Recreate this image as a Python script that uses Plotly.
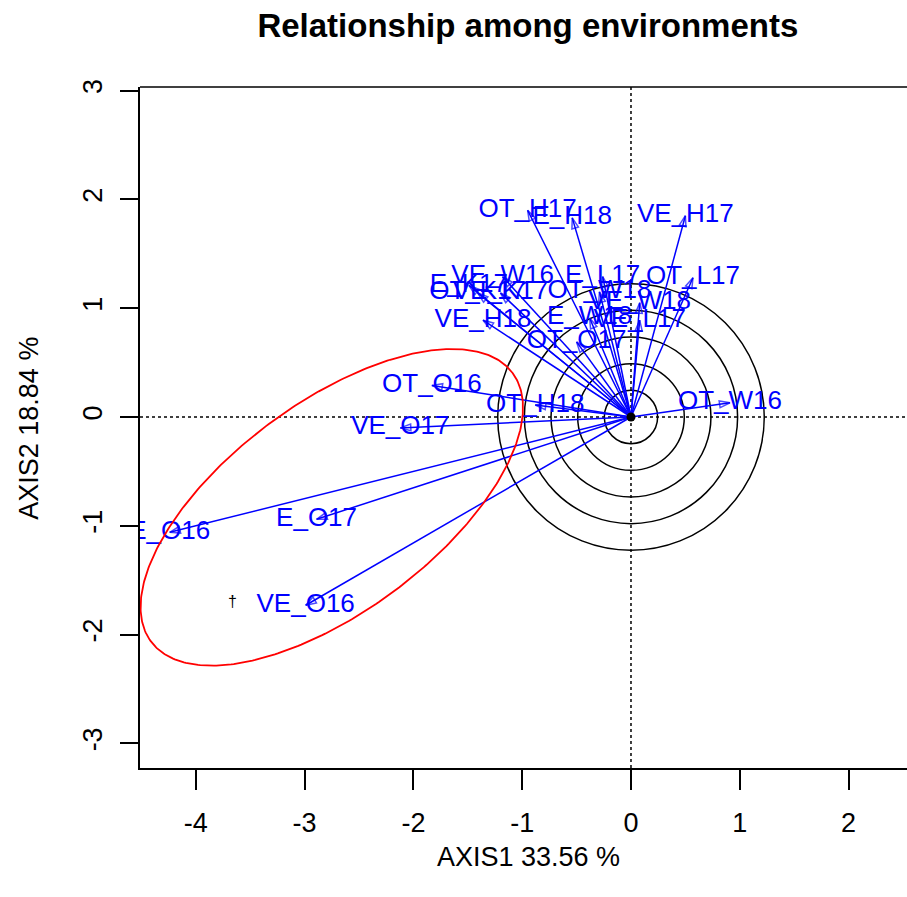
import numpy as np
import plotly.graph_objects as go

# Environment scores on the first two biplot axes
env_names = [
    "OT_H17", "E_H18", "VE_H17", "VE_W16", "E_L17", "OT_L17",
    "E_K17", "OT_K17", "VE_K17", "OT_W18", "VE_W18", "VE_H18",
    "E_W18", "VE_L17", "OT_O17", "OT_O16", "OT_H18", "OT_W16",
    "VE_O17", "E_O17", "E_O16", "VE_O16",
]
axis1 = [
    -0.95, -0.54, 0.50, -1.18, -0.26, 0.57,
    -1.49, -1.41, -1.20, -0.29, 0.08, -1.36,
    -0.38, 0.08, -0.50, -1.83, -0.88, 0.91,
    -2.12, -2.89, -4.24, -2.99,
]
axis2 = [
    1.90, 1.83, 1.85, 1.29, 1.29, 1.28,
    1.21, 1.14, 1.14, 1.15, 1.05, 0.89,
    0.91, 0.89, 0.69, 0.29, 0.11, 0.13,
    -0.10, -0.94, -1.06, -1.73,
]

# Concentric reference circles around the origin
circle_radii = [0.245, 0.49, 0.735, 0.98, 1.225]

# Highlighting ellipse around the O-environment group
ell_center = (-2.75, -0.83)
ell_semi_major = 2.07
ell_semi_minor = 0.96
ell_angle_deg = 36.6

x_range = [-4.513, 2.537]
y_range = [-3.226, 3.033]
x_ticks = [-4, -3, -2, -1, 0, 1, 2]
y_ticks = [-3, -2, -1, 0, 1, 2, 3]

title_text = "Relationship among environments"
x_title = "AXIS1 33.56 %"
y_title = "AXIS2 18.84 %"

FONT = "Arial, Liberation Sans, sans-serif"
BLUE = "#0000FF"

fig = go.Figure()

# Vectors from the origin to each environment, with open arrowheads
vx, vy, vsize = [], [], []
for x, y in zip(axis1, axis2):
    vx += [0, x, None]
    vy += [0, y, None]
    vsize += [0, 11, 0]
fig.add_trace(go.Scatter(
    x=vx, y=vy, mode="lines+markers",
    line=dict(color=BLUE, width=1.5),
    marker=dict(symbol="arrow-open", size=vsize, angleref="previous",
                color=BLUE, line=dict(color=BLUE, width=1.5)),
    hoverinfo="skip", showlegend=False,
))

# Environment labels at the vector ends
fig.add_trace(go.Scatter(
    x=axis1, y=axis2, mode="text", text=env_names,
    textposition="middle center",
    textfont=dict(family=FONT, size=26, color=BLUE),
    hoverinfo="skip", showlegend=False,
))

# Origin marker
fig.add_trace(go.Scatter(
    x=[0], y=[0], mode="markers",
    marker=dict(color="black", size=9),
    hoverinfo="skip", showlegend=False,
))

# Red ellipse
t = np.linspace(0, 2 * np.pi, 400)
th = np.deg2rad(ell_angle_deg)
ex = ell_center[0] + ell_semi_major * np.cos(t) * np.cos(th) - ell_semi_minor * np.sin(t) * np.sin(th)
ey = ell_center[1] + ell_semi_major * np.cos(t) * np.sin(th) + ell_semi_minor * np.sin(t) * np.cos(th)
fig.add_trace(go.Scatter(
    x=ex, y=ey, mode="lines", line=dict(color="#FF0000", width=1.8),
    cliponaxis=False, hoverinfo="skip", showlegend=False,
))

shapes = []
for r in circle_radii:
    shapes.append(dict(type="circle", xref="x", yref="y",
                       x0=-r, x1=r, y0=-r, y1=r,
                       line=dict(color="black", width=1.5), layer="below"))
# Dotted axes through the origin
shapes.append(dict(type="line", xref="x", yref="paper", x0=0, x1=0, y0=0, y1=1,
                   line=dict(color="black", width=1.5, dash="dot"), layer="below"))
shapes.append(dict(type="line", xref="paper", yref="y", x0=0, x1=1, y0=0, y1=0,
                   line=dict(color="black", width=1.5, dash="dot"), layer="below"))
# Top edge of the plot frame
shapes.append(dict(type="line", xref="paper", yref="paper", x0=0, x1=1, y0=1, y1=1,
                   line=dict(color="black", width=1.5)))

annotations = [
    dict(text=x_title, xref="paper", yref="paper", x=0.506, y=-0.1307,
         xanchor="center", yanchor="middle", showarrow=False,
         font=dict(family=FONT, size=27, color="black")),
    dict(text=y_title, xref="paper", yref="paper", x=-0.144, y=0.499,
         xanchor="center", yanchor="middle", showarrow=False, textangle=-90,
         font=dict(family=FONT, size=27, color="black")),
    dict(text="†", xref="x", yref="y", x=-3.667, y=-1.70,
         xanchor="center", yanchor="middle", showarrow=False,
         font=dict(family=FONT, size=16, color="black")),
]

fig.update_layout(
    width=907, height=897,
    margin=dict(l=140, r=0, t=87, b=129),
    paper_bgcolor="white", plot_bgcolor="white",
    title=dict(text="<b>" + title_text + "</b>", x=0.582, xref="container",
               y=0.972, yref="container", xanchor="center", yanchor="middle",
               font=dict(family=FONT, size=33, color="black")),
    shapes=shapes, annotations=annotations,
    showlegend=False,
)
fig.update_xaxes(
    range=x_range, tickvals=x_ticks, ticktext=[str(v) for v in x_ticks],
    showgrid=False, zeroline=False, showline=True, linecolor="black", linewidth=1.5,
    ticks="outside", ticklen=20, tickwidth=1.5, tickcolor="black",
    ticklabelstandoff=10,
    tickfont=dict(family=FONT, size=27, color="black"),
)
fig.update_yaxes(
    range=y_range, tickvals=y_ticks, ticktext=[str(v) for v in y_ticks],
    showgrid=False, zeroline=False, showline=True, linecolor="black", linewidth=1.5,
    ticks="outside", ticklen=18, tickwidth=1.5, tickcolor="black",
    tickangle=-90, ticklabelstandoff=7,
    tickfont=dict(family=FONT, size=27, color="black"),
)

fig.write_html("out.html")
